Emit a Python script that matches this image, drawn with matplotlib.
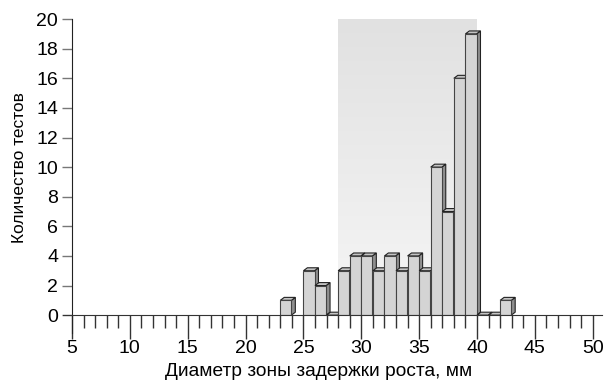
import numpy as np
import matplotlib.pyplot as plt
from matplotlib.patches import Polygon
from matplotlib.colors import LinearSegmentedColormap
from matplotlib.ticker import MultipleLocator

plt.rcParams['font.family'] = ['Liberation Sans', 'DejaVu Sans']

# диаметр зоны (левая граница столбца), мм и количество тестов
diam = [23, 25, 26, 27, 28, 29, 30, 31, 32, 33, 34, 35, 36, 37, 38, 39, 40, 41, 42]
count = [1, 3, 2, 0, 3, 4, 4, 3, 4, 3, 4, 3, 10, 7, 16, 19, 0, 0, 1]

shade_lo, shade_hi = 28, 40
xticks = [5, 10, 15, 20, 25, 30, 35, 40, 45, 50]
yticks = list(range(0, 21, 2))

fig = plt.figure(figsize=(6.05, 3.82), dpi=100)
ax = fig.add_axes([0.119, 0.175, 0.876, 0.775])
ax.set_xlim(5, 50.8)
ax.set_ylim(0, 20)

# градиентный фон для диапазона 28-40
grad = np.linspace(0, 1, 256).reshape(-1, 1)
cmap = LinearSegmentedColormap.from_list('g', ['#f6f6f6', '#e1e1e1'])
ax.imshow(grad, extent=[shade_lo, shade_hi, 0, 20], aspect='auto', origin='lower',
          cmap=cmap, zorder=0)

# псевдо-3D столбцы
w = 0.96
dx, dy = 0.34, 0.2
for x, h in zip(diam, count):
    top = [(x, h), (x + w, h), (x + w + dx, h + dy), (x + dx, h + dy)]
    side = [(x + w, 0), (x + w + dx, dy), (x + w + dx, h + dy), (x + w, h)]
    ax.add_patch(Polygon(side, closed=True, facecolor='#8f8f8f', edgecolor='#222222', lw=0.8, zorder=2))
    ax.add_patch(Polygon(top, closed=True, facecolor='#c4c4c4', edgecolor='#222222', lw=0.8, zorder=2))
    ax.bar(x, h, width=w, align='edge', color='#d4d4d4', edgecolor='#444444', lw=0.8, zorder=2)

for s in ['top', 'right']:
    ax.spines[s].set_visible(False)
ax.spines['bottom'].set_color('#333333')
ax.spines['left'].set_color('#222222')
ax.spines['bottom'].set_bounds(4.2, 50.8)
ax.spines['left'].set_bounds(-1.2, 20)
ax.spines['left'].set_clip_on(False)

ax.set_xticks(xticks)
ax.xaxis.set_minor_locator(MultipleLocator(1))
ax.set_yticks(yticks)
ax.tick_params(axis='x', which='major', length=17, width=1, color='#333333', labelsize=14, pad=1)
ax.tick_params(axis='x', which='minor', length=9, width=1, color='#333333')
ax.tick_params(axis='y', length=7, width=1, color='#777777', labelsize=14, pad=3)

ax.set_xlabel('Диаметр зоны задержки роста, мм', fontsize=13.8)
ax.xaxis.set_label_coords(0.466, -0.16)
ax.set_ylabel('Количество тестов', fontsize=12.5, labelpad=7)

fig.savefig('out.png', dpi=100)
